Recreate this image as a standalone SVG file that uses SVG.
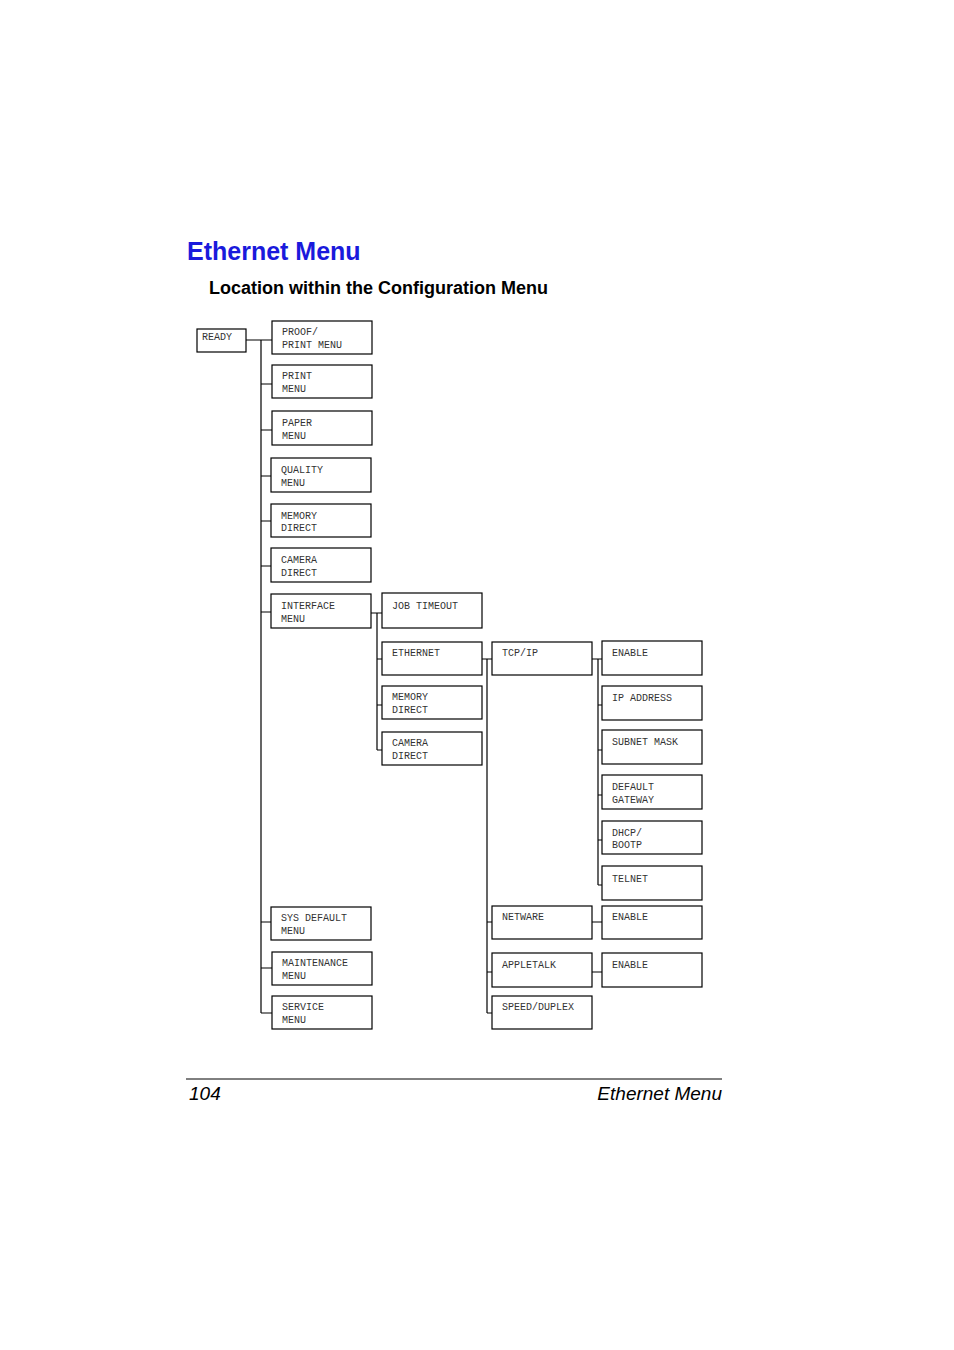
<svg xmlns="http://www.w3.org/2000/svg" width="954" height="1350" viewBox="0 0 954 1350">
<style>
.b{fill:#fff;stroke:#000;stroke-width:1.2}
.t{font-family:"Liberation Mono",monospace;font-size:10px;fill:#333}
.c{fill:none;stroke:#000;stroke-width:1.2}
</style>
<rect width="954" height="1350" fill="#fff"/>
<text x="187" y="260" font-family="Liberation Sans,sans-serif" font-weight="bold" font-size="25" fill="#1a1adc">Ethernet Menu</text>
<text x="209" y="294" font-family="Liberation Sans,sans-serif" font-weight="bold" font-size="18">Location within the Configuration Menu</text>
<g id="connectors" class="c">
<path d="M246 340H272M261 340V1013M261 384H272M261 430H272M261 476H271M261 521H271M261 566H271M261 612H271M261 922H271M261 968H272M261 1013H272"/>
<path d="M371 613H382M377 613V750M377 659H382M377 705H382M377 750H382"/>
<path d="M482 659H492M487 659V1013M487 922H492M487 972H492M487 1013H492"/>
<path d="M592 659H602M598 659V885M598 705H602M598 750H602M598 795H602M598 840H602M598 885H602"/>
<path d="M592 922H602M592 972H602"/>
</g>
<g id="ready"><rect class="b" x="197" y="329" width="49" height="23"/><text class="t" x="202" y="340">READY</text></g>
<g id="proof"><rect class="b" x="272" y="321" width="100" height="33"/><text class="t" x="282" y="335">PROOF/</text><text class="t" x="282" y="348">PRINT MENU</text></g>
<g id="print"><rect class="b" x="272" y="365" width="100" height="33"/><text class="t" x="282" y="379">PRINT</text><text class="t" x="282" y="392">MENU</text></g>
<g id="paper"><rect class="b" x="272" y="411" width="100" height="34"/><text class="t" x="282" y="426">PAPER</text><text class="t" x="282" y="439">MENU</text></g>
<g id="quality"><rect class="b" x="271" y="458" width="100" height="34"/><text class="t" x="281" y="473">QUALITY</text><text class="t" x="281" y="486">MENU</text></g>
<g id="memory"><rect class="b" x="271" y="504" width="100" height="33"/><text class="t" x="281" y="519">MEMORY</text><text class="t" x="281" y="531">DIRECT</text></g>
<g id="camera"><rect class="b" x="271" y="548" width="100" height="34"/><text class="t" x="281" y="563">CAMERA</text><text class="t" x="281" y="576">DIRECT</text></g>
<g id="interface"><rect class="b" x="271" y="594" width="100" height="34"/><text class="t" x="281" y="609">INTERFACE</text><text class="t" x="281" y="622">MENU</text></g>
<g id="sysdefault"><rect class="b" x="271" y="907" width="100" height="33"/><text class="t" x="281" y="921">SYS DEFAULT</text><text class="t" x="281" y="934">MENU</text></g>
<g id="maintenance"><rect class="b" x="272" y="952" width="100" height="33"/><text class="t" x="282" y="966">MAINTENANCE</text><text class="t" x="282" y="979">MENU</text></g>
<g id="service"><rect class="b" x="272" y="996" width="100" height="33"/><text class="t" x="282" y="1010">SERVICE</text><text class="t" x="282" y="1023">MENU</text></g>
<g id="jobtimeout"><rect class="b" x="382" y="593" width="100" height="35"/><text class="t" x="392" y="609">JOB TIMEOUT</text></g>
<g id="ethernet"><rect class="b" x="382" y="642" width="100" height="33"/><text class="t" x="392" y="656">ETHERNET</text></g>
<g id="memdirect"><rect class="b" x="382" y="686" width="100" height="33"/><text class="t" x="392" y="700">MEMORY</text><text class="t" x="392" y="713">DIRECT</text></g>
<g id="camdirect"><rect class="b" x="382" y="732" width="100" height="33"/><text class="t" x="392" y="746">CAMERA</text><text class="t" x="392" y="759">DIRECT</text></g>
<g id="tcpip"><rect class="b" x="492" y="642" width="100" height="33"/><text class="t" x="502" y="656">TCP/IP</text></g>
<g id="netware"><rect class="b" x="492" y="906" width="100" height="33"/><text class="t" x="502" y="920">NETWARE</text></g>
<g id="appletalk"><rect class="b" x="492" y="953" width="100" height="34"/><text class="t" x="502" y="968">APPLETALK</text></g>
<g id="speed"><rect class="b" x="492" y="996" width="100" height="33"/><text class="t" x="502" y="1010">SPEED/DUPLEX</text></g>
<g id="enable1"><rect class="b" x="602" y="641" width="100" height="34"/><text class="t" x="612" y="656">ENABLE</text></g>
<g id="ipaddress"><rect class="b" x="602" y="686" width="100" height="34"/><text class="t" x="612" y="701">IP ADDRESS</text></g>
<g id="subnet"><rect class="b" x="602" y="730" width="100" height="34"/><text class="t" x="612" y="745">SUBNET MASK</text></g>
<g id="gateway"><rect class="b" x="602" y="775" width="100" height="34"/><text class="t" x="612" y="790">DEFAULT</text><text class="t" x="612" y="803">GATEWAY</text></g>
<g id="dhcp"><rect class="b" x="602" y="821" width="100" height="33"/><text class="t" x="612" y="836">DHCP/</text><text class="t" x="612" y="848">BOOTP</text></g>
<g id="telnet"><rect class="b" x="602" y="866" width="100" height="34"/><text class="t" x="612" y="882">TELNET</text></g>
<g id="enable2"><rect class="b" x="602" y="906" width="100" height="33"/><text class="t" x="612" y="920">ENABLE</text></g>
<g id="enable3"><rect class="b" x="602" y="953" width="100" height="34"/><text class="t" x="612" y="968">ENABLE</text></g>
<line x1="186" y1="1079" x2="722" y2="1079" stroke="#000" stroke-width="1"/>
<text x="189" y="1100" font-family="Liberation Sans,sans-serif" font-style="italic" font-size="19">104</text>
<text x="722" y="1100" text-anchor="end" font-family="Liberation Sans,sans-serif" font-style="italic" font-size="19">Ethernet Menu</text>
</svg>
